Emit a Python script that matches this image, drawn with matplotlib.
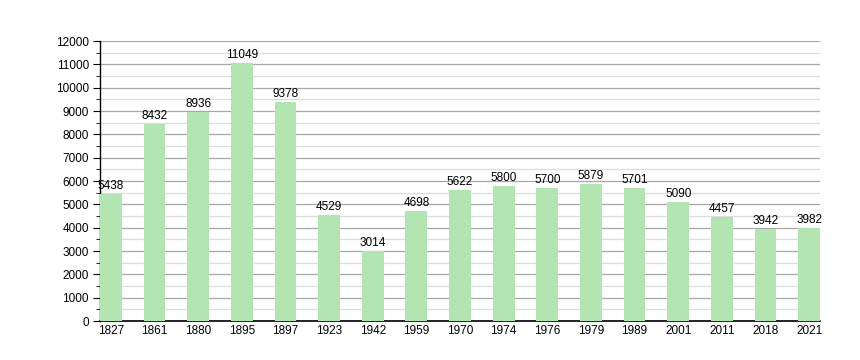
import matplotlib
matplotlib.use('Agg')
import matplotlib.pyplot as plt
from matplotlib.ticker import MultipleLocator

plt.rcParams['font.family'] = ['Liberation Sans', 'DejaVu Sans']

years = ['1827', '1861', '1880', '1895', '1897', '1923', '1942', '1959', '1970',
         '1974', '1976', '1979', '1989', '2001', '2011', '2018', '2021']
population = [5438, 8432, 8936, 11049, 9378, 4529, 3014, 4698, 5622,
              5800, 5700, 5879, 5701, 5090, 4457, 3942, 3982]

fig = plt.figure(figsize=(8.6, 3.6), dpi=100)
ax = fig.add_axes([100 / 860, 1 - 321 / 360, 720 / 860, 280 / 360])

x = range(len(years))
ax.bar(x, population, width=0.5, color='#b3e5b3', zorder=3)
for xi, v in zip(x, population):
    ax.text(xi, v + 90, str(v), ha='center', va='bottom', fontsize=8.5, zorder=4)

ax.set_xlim(-0.25, len(years) - 0.75)
ax.set_ylim(0, 12000)
ax.set_xticks(list(x))
ax.set_xticklabels(years)
ax.yaxis.set_major_locator(MultipleLocator(1000))
ax.yaxis.set_minor_locator(MultipleLocator(500))
ax.grid(axis='y', which='major', color='#a8a8a8', linewidth=0.9, zorder=1)
ax.grid(axis='y', which='minor', color='#dddddd', linewidth=0.9, zorder=1)
ax.set_axisbelow(True)

for s in ['top', 'right']:
    ax.spines[s].set_visible(False)
ax.spines['left'].set_linewidth(1.0)
ax.spines['bottom'].set_linewidth(1.2)
ax.tick_params(axis='y', which='major', length=5, labelsize=8.5, pad=3)
ax.tick_params(axis='y', which='minor', length=3)
ax.tick_params(axis='x', length=0, labelsize=8.5, pad=3)

fig.savefig('out.png', dpi=100)
